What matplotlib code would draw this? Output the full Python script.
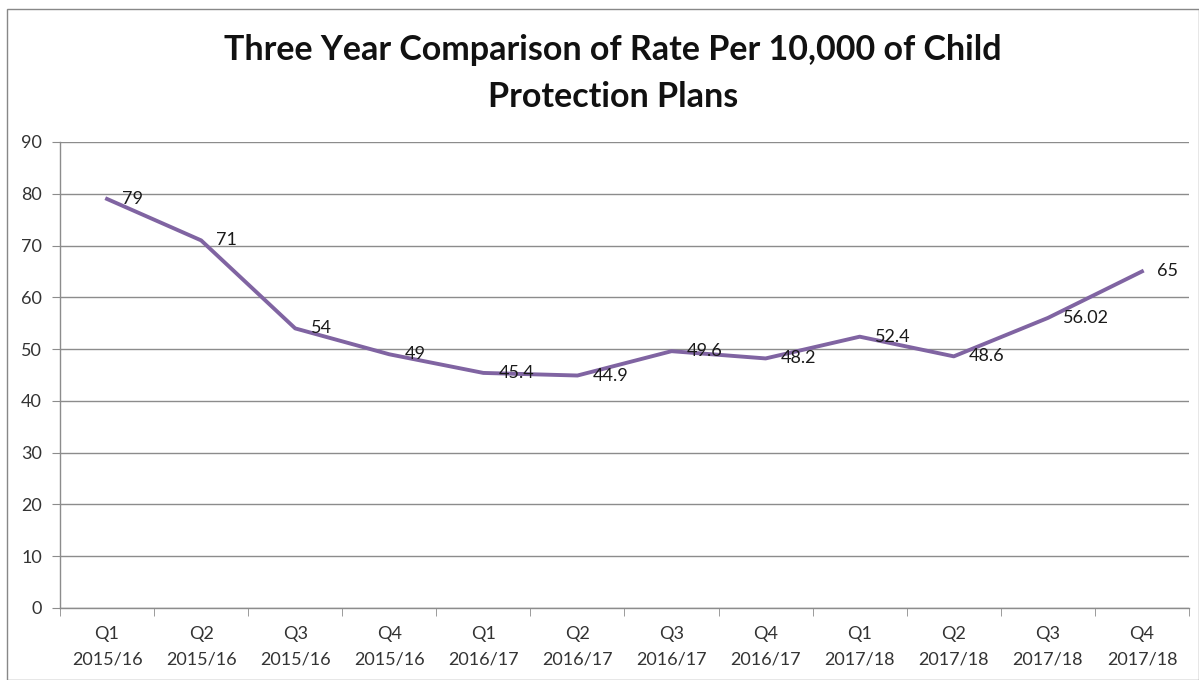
import matplotlib
matplotlib.use("Agg")
import matplotlib.pyplot as plt
from matplotlib.patches import Rectangle
import numpy as np

quarters = ["Q1", "Q2", "Q3", "Q4", "Q1", "Q2", "Q3", "Q4", "Q1", "Q2", "Q3", "Q4"]
years = ["2015/16"] * 4 + ["2016/17"] * 4 + ["2017/18"] * 4
rates = [79, 71, 54, 49, 45.4, 44.9, 49.6, 48.2, 52.4, 48.6, 56.02, 65]
rate_labels = ["79", "71", "54", "49", "45.4", "44.9", "49.6", "48.2", "52.4", "48.6", "56.02", "65"]
yticks = list(range(0, 91, 10))

plt.rcParams['font.family'] = ['Lato', 'DejaVu Sans']

fig = plt.figure(figsize=(11.99, 6.8), dpi=100)
fig.patches.append(Rectangle((7/1199, 0), 1 - 7/1199 - 0.5/1199, 1 - 9/680, transform=fig.transFigure,
                             fill=False, edgecolor='#888888', linewidth=1))

ax = fig.add_axes([60/1199, 1 - 608/680, 1129/1199, (608 - 142)/680])
x = np.arange(len(rates))
ax.plot(x, rates, color='#8064A2', linewidth=2.8, solid_joinstyle='round')

for xi, v, lab in zip(x, rates, rate_labels):
    ax.annotate(lab, (xi, v), xytext=(11, 0), textcoords='offset points',
                ha='left', va='center', fontsize=13, color='#1a1a1a')

ax.set_xlim(-0.5, len(rates) - 0.5)
ax.set_ylim(0, 90)
ax.set_yticks(yticks)
ax.set_yticklabels([str(t) for t in yticks])
ax.yaxis.grid(True, color='#8c8c8c', linewidth=1)
ax.set_axisbelow(True)

ax.set_xticks(x)
ax.set_xticklabels([f"{q}\n{y}" for q, y in zip(quarters, years)], fontsize=13, color='#333333',
                   linespacing=1.75)
ax.tick_params(axis='x', which='major', length=0, pad=13)
ax.set_xticks(np.arange(-0.5, len(rates), 1), minor=True)
ax.tick_params(axis='x', which='minor', length=6, color='#8c8c8c', direction='out')
ax.tick_params(axis='y', length=6, color='#8c8c8c', direction='out', labelsize=13,
               labelcolor='#333333', pad=7)

for s in ['top', 'right']:
    ax.spines[s].set_visible(False)
for s in ['left', 'bottom']:
    ax.spines[s].set_color('#8c8c8c')
    ax.spines[s].set_linewidth(1)

fig.text(613/1199, 1 - 50/680, "Three Year Comparison of Rate Per 10,000 of Child", ha='center', va='center',
         fontsize=24.5, fontweight='bold', color='#111111')
fig.text(613/1199, 1 - 97/680, "Protection Plans", ha='center', va='center',
         fontsize=24.5, fontweight='bold', color='#111111')

fig.savefig("out.png", dpi=100)
